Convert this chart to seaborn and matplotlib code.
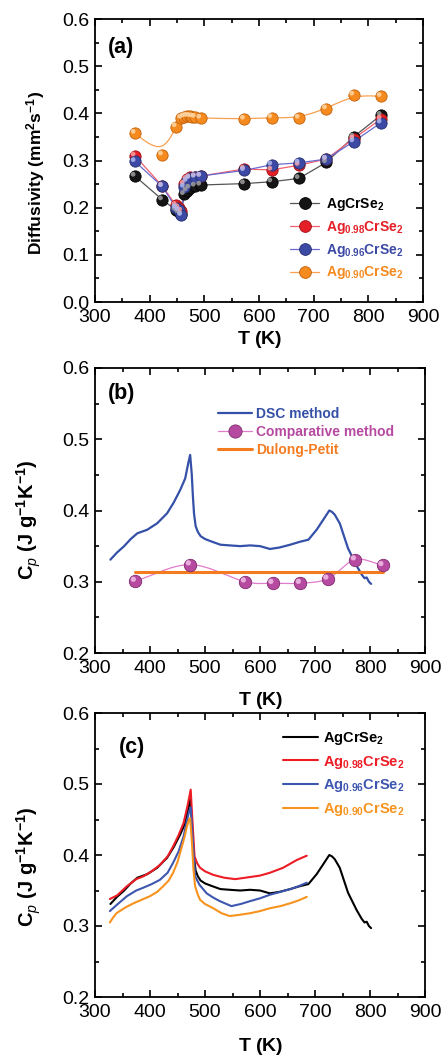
import numpy as np
import matplotlib
matplotlib.use("Agg")
import matplotlib.pyplot as plt
from matplotlib.lines import Line2D
from matplotlib.ticker import MultipleLocator
from matplotlib.transforms import offset_copy
import seaborn as sns

# ---------------- (a) thermal diffusivity ----------------
T_diff = [373, 423, 448, 453, 458, 463, 468, 473, 483, 493, 573, 623, 673, 723, 773, 823]
D_AgCrSe2 = [0.267, 0.217, 0.195, 0.190, 0.186, 0.228, 0.236, 0.242, 0.246, 0.248,
             0.251, 0.255, 0.262, 0.296, 0.350, 0.396]
D_Ag098 = [0.310, 0.246, 0.205, 0.200, 0.193, 0.250, 0.260, 0.264, 0.266, 0.267,
           0.282, 0.280, 0.290, 0.303, 0.346, 0.388]
D_Ag096 = [0.298, 0.245, 0.200, 0.194, 0.184, 0.244, 0.256, 0.262, 0.265, 0.267,
           0.279, 0.291, 0.295, 0.303, 0.340, 0.380]
T_diff_090 = [373, 423, 448, 458, 463, 468, 473, 478, 483, 493, 573, 623, 673, 723, 773, 823]
D_Ag090 = [0.358, 0.312, 0.372, 0.390, 0.393, 0.394, 0.394, 0.393, 0.392, 0.390,
           0.388, 0.391, 0.390, 0.410, 0.439, 0.436]

# ---------------- (b) heat capacity of AgCrSe2 ----------------
T_dsc = [328, 340, 353, 365, 377, 395, 413, 431, 443, 455, 464, 470, 473, 476, 478, 480,
         483, 487, 492, 500, 510, 528, 545, 564, 582, 600, 618, 635, 655, 672, 688, 703,
         715, 726, 731, 736, 745, 754, 760, 767, 776, 785, 790, 794, 798, 802]
Cp_dsc = [0.331, 0.341, 0.350, 0.360, 0.368, 0.373, 0.382, 0.396, 0.411, 0.429, 0.445,
          0.468, 0.478, 0.450, 0.420, 0.396, 0.378, 0.370, 0.364, 0.360, 0.357, 0.352,
          0.351, 0.350, 0.351, 0.350, 0.346, 0.348, 0.352, 0.356, 0.359, 0.373, 0.387,
          0.400, 0.398, 0.394, 0.382, 0.361, 0.347, 0.336, 0.322, 0.310, 0.305, 0.306,
          0.300, 0.297]
T_comp = [373, 473, 573, 623, 673, 723, 773, 823]
Cp_comp = [0.301, 0.324, 0.300, 0.298, 0.298, 0.304, 0.331, 0.323]
T_dp = [373, 823]
Cp_dp = [0.314, 0.314]

# ---------------- (c) DSC heat capacity of Ag1-xCrSe2 ----------------
T_cp098 = [327, 340, 358, 375, 388, 403, 418, 432, 442, 452, 461, 467, 471, 474, 477,
           481, 486, 491, 500, 515, 535, 555, 582, 600, 618, 642, 667, 685]
Cp_098 = [0.338, 0.343, 0.356, 0.366, 0.370, 0.377, 0.386, 0.398, 0.412, 0.428, 0.445,
          0.465, 0.480, 0.492, 0.450, 0.398, 0.388, 0.382, 0.377, 0.372, 0.368, 0.366,
          0.369, 0.371, 0.375, 0.382, 0.393, 0.399]
T_cp096 = [327, 340, 358, 375, 388, 403, 418, 432, 442, 452, 461, 467, 471, 474, 477,
           482, 490, 503, 515, 527, 548, 565, 582, 600, 618, 637, 655, 670, 685]
Cp_096 = [0.321, 0.330, 0.342, 0.350, 0.354, 0.359, 0.365, 0.375, 0.389, 0.405, 0.426,
          0.448, 0.461, 0.467, 0.430, 0.370, 0.358, 0.346, 0.340, 0.335, 0.328, 0.331,
          0.335, 0.339, 0.344, 0.348, 0.352, 0.356, 0.361]
T_cp090 = [327, 333, 339, 355, 370, 385, 400, 413, 424, 434, 442, 450, 458, 463, 467,
           471, 473, 476, 479, 482, 487, 491, 500, 515, 530, 545, 565, 582, 600, 618,
           637, 655, 670, 685]
Cp_090 = [0.305, 0.312, 0.318, 0.326, 0.332, 0.337, 0.342, 0.348, 0.356, 0.364, 0.375,
          0.390, 0.412, 0.426, 0.440, 0.450, 0.452, 0.420, 0.380, 0.356, 0.344, 0.337,
          0.331, 0.325, 0.318, 0.314, 0.316, 0.318, 0.321, 0.325, 0.328, 0.332, 0.336,
          0.341]

labels = [r"$\mathbf{AgCrSe_2}$", r"$\mathbf{Ag_{0.98}CrSe_2}$",
          r"$\mathbf{Ag_{0.96}CrSe_2}$", r"$\mathbf{Ag_{0.90}CrSe_2}$"]

# ---------------- style ----------------
sns.set_theme(style="ticks")
plt.rcParams.update({
    "font.family": ["Liberation Sans", "DejaVu Sans"],
    "mathtext.fontset": "custom",
    "mathtext.rm": "Liberation Sans",
    "mathtext.bf": "Liberation Sans:bold",
    "mathtext.it": "Liberation Sans:italic",
    "text.color": "black",
    "axes.labelcolor": "black",
    "xtick.color": "black",
    "ytick.color": "black",
    "axes.edgecolor": "black",
    "axes.linewidth": 1.3,
})


def catmull_rom(x, y, n=24):
    """Smooth connecting curve passing through every point."""
    p = np.column_stack([x, y]).astype(float)
    p = np.vstack([2 * p[0] - p[1], p, 2 * p[-1] - p[-2]])
    out = []
    t = np.linspace(0, 1, n)[:, None]
    for i in range(1, len(p) - 2):
        p0, p1, p2, p3 = p[i - 1], p[i], p[i + 1], p[i + 2]
        seg = 0.5 * (2 * p1 + (-p0 + p2) * t + (2 * p0 - 5 * p1 + 4 * p2 - p3) * t ** 2
                     + (-p0 + 3 * p1 - 3 * p2 + p3) * t ** 3)
        out.append(seg)
    c = np.vstack(out)
    return c[:, 0], c[:, 1]


def b_spline(x, y, n=24):
    """Uniform cubic B-spline using the points as control polygon."""
    p = np.column_stack([x, y]).astype(float)
    p = np.vstack([p[0], p[0], p, p[-1], p[-1]])
    t = np.linspace(0, 1, n)[:, None]
    out = []
    for i in range(len(p) - 3):
        p0, p1, p2, p3 = p[i], p[i + 1], p[i + 2], p[i + 3]
        seg = ((1 - t) ** 3 * p0 + (3 * t ** 3 - 6 * t ** 2 + 4) * p1
               + (-3 * t ** 3 + 3 * t ** 2 + 3 * t + 1) * p2 + t ** 3 * p3) / 6
        out.append(seg)
    c = np.vstack(out)
    return c[:, 0], c[:, 1]


def balls(ax, x, y, face, edge, hi, s=64, z=3):
    ax.scatter(x, y, s=s, c=face, edgecolors=edge, linewidths=0.6, zorder=z)
    tr = offset_copy(ax.transData, fig=ax.figure, x=-1.3, y=1.3, units="points")
    ax.scatter(x, y, s=s * 0.18, c=hi, edgecolors="none", zorder=z + 0.1,
               transform=tr, alpha=0.85)


def style_axes(ax, ymin, ymax):
    ax.set_xlim(300, 900)
    ax.set_ylim(ymin, ymax)
    ax.xaxis.set_major_locator(MultipleLocator(100))
    ax.xaxis.set_minor_locator(MultipleLocator(50))
    ax.yaxis.set_major_locator(MultipleLocator(0.1))
    ax.yaxis.set_minor_locator(MultipleLocator(0.05))
    ax.yaxis.set_major_formatter(matplotlib.ticker.FormatStrFormatter("%.1f"))
    ax.tick_params(which="both", direction="in", top=True, right=True,
                   labelsize=14, width=1.2)
    ax.tick_params(which="major", length=5, pad=4)
    ax.tick_params(axis="x", which="major", pad=5)
    ax.tick_params(which="minor", length=3)
    for sp in ax.spines.values():
        sp.set_visible(True)
        sp.set_linewidth(1.3)
    ax.set_xlabel(r"$\mathbf{T\ (K)}$", fontsize=14)


fig = plt.figure(figsize=(4.41, 10.58), dpi=100)
W, H = 441.0, 1058.0


def add_axes(left, top, right, bottom):
    return fig.add_axes([left / W, 1 - bottom / H, (right - left) / W, (bottom - top) / H])


# ---------------- panel (a) ----------------
ax1 = add_axes(95, 19, 423, 302)
style_axes(ax1, 0.0, 0.6)
cols_a = [("#151515", "#000000", "#a0a0a0"),
          ("#e41f26", "#a01018", "#ffa0a0"),
          ("#3d4aa5", "#24306e", "#b0b8ee"),
          ("#f58a1f", "#c2620c", "#ffd6a4")]
line_a = ["#555555", "#f06070", "#6a6ad0", "#f8a050"]
for Ys, (fc, ec, hc), lc in zip([D_AgCrSe2, D_Ag098, D_Ag096], cols_a[:3], line_a[:3]):
    sns.lineplot(x=T_diff, y=Ys, ax=ax1, color=lc, lw=0.9, sort=False, zorder=2)
    balls(ax1, T_diff, Ys, fc, ec, hc, s=66)
sx, sy = b_spline(T_diff_090, D_Ag090)
sns.lineplot(x=sx, y=sy, ax=ax1, color=line_a[3], lw=0.9, sort=False, zorder=2)
balls(ax1, T_diff_090, D_Ag090, *cols_a[3], s=66)

hand_a = [Line2D([], [], color=lc, lw=0.9, marker="o", ms=8.5, mfc=fc, mec=ec, mew=0.6)
          for (fc, ec, hc), lc in zip(cols_a, line_a)]
leg = ax1.legend(hand_a, labels, loc="upper left", bbox_to_anchor=(0.595, 0.375),
                 frameon=False, fontsize=10, handlelength=2.1, handletextpad=0.45,
                 labelspacing=0.42, borderaxespad=0, borderpad=0)
for t, c in zip(leg.get_texts(), ["#000000", "#e41f26", "#3d4aa5", "#f58a1f"]):
    t.set_color(c)
ax1.set_ylabel(r"$\mathbf{Diffusivity\ (mm^2s^{-1})}$", fontsize=12.5)
ax1.yaxis.set_label_coords(-0.18, 0.456)
ax1.yaxis.label.set_va("center")
ax1.xaxis.set_label_coords(0.503, -0.134)
ax1.xaxis.label.set_va("center")
ax1.text(0.08, 0.90, "(a)", transform=ax1.transAxes, fontsize=15.5,
         fontweight="bold", ha="center", va="center")

# ---------------- panel (b) ----------------
ax2 = add_axes(95, 368, 425, 653)
style_axes(ax2, 0.2, 0.6)
dsc_c = "#3550a8"
comp_c = ("#b64aa0", "#7e2a6c", "#f2bfe8")
dp_c = "#f47b20"
sns.lineplot(x=T_dsc, y=Cp_dsc, ax=ax2, color=dsc_c, lw=1.6, sort=False, zorder=2)
cx, cy = catmull_rom(T_comp, Cp_comp)
sns.lineplot(x=cx, y=cy, ax=ax2, color="#e07ccc", lw=0.9, sort=False, zorder=2)
sns.lineplot(x=T_dp, y=Cp_dp, ax=ax2, color=dp_c, lw=2.2, sort=False, zorder=2.5)
balls(ax2, T_comp, Cp_comp, *comp_c, s=80)
hand_b = [Line2D([], [], color=dsc_c, lw=1.6),
          Line2D([], [], color="#e07ccc", lw=0.9, marker="o", ms=9.5,
                 mfc=comp_c[0], mec=comp_c[1], mew=0.6),
          Line2D([], [], color=dp_c, lw=2.2)]
leg2 = ax2.legend(hand_b, ["DSC method", "Comparative method", "Dulong-Petit"],
                  loc="upper left", bbox_to_anchor=(0.374, 0.864), frameon=False,
                  prop={"size": 10, "weight": "bold"}, handlelength=2.4,
                  handletextpad=0.3, labelspacing=0.3, borderaxespad=0, borderpad=0)
for t, c in zip(leg2.get_texts(), [dsc_c, comp_c[0], dp_c]):
    t.set_color(c)
ax2.set_ylabel(r"$\mathbf{C}_{\mathit{p}}\ \mathbf{(J\ g^{-1}K^{-1})}$", fontsize=14.5)
ax2.yaxis.set_label_coords(-0.20, 0.467)
ax2.yaxis.label.set_va("center")
ax2.xaxis.set_label_coords(0.503, -0.165)
ax2.xaxis.label.set_va("center")
ax2.text(0.082, 0.912, "(b)", transform=ax2.transAxes, fontsize=15.5,
         fontweight="bold", ha="center", va="center")

# ---------------- panel (c) ----------------
ax3 = add_axes(95, 713, 425, 997)
style_axes(ax3, 0.2, 0.6)
cols_c = ["#000000", "#ee1c25", "#3d56b0", "#f7931e"]
for Ts, Ys, c in zip([T_dsc, T_cp098, T_cp096, T_cp090],
                     [Cp_dsc, Cp_098, Cp_096, Cp_090], cols_c):
    sns.lineplot(x=Ts, y=Ys, ax=ax3, color=c, lw=1.5, sort=False)
hand_c = [Line2D([], [], color=c, lw=1.5) for c in cols_c]
leg3 = ax3.legend(hand_c, labels, loc="upper left", bbox_to_anchor=(0.571, 0.94),
                  frameon=False, fontsize=10.5, handlelength=2.4, handletextpad=0.3,
                  labelspacing=0.45, borderaxespad=0, borderpad=0)
for t, c in zip(leg3.get_texts(), cols_c):
    t.set_color(c)
ax3.set_ylabel(r"$\mathbf{C}_{\mathit{p}}\ \mathbf{(J\ g^{-1}K^{-1})}$", fontsize=14.5)
ax3.yaxis.set_label_coords(-0.20, 0.458)
ax3.yaxis.label.set_va("center")
ax3.xaxis.set_label_coords(0.503, -0.176)
ax3.xaxis.label.set_va("center")
ax3.text(0.112, 0.88, "(c)", transform=ax3.transAxes, fontsize=15.5,
         fontweight="bold", ha="center", va="center")

fig.savefig("out.png", dpi=100)
